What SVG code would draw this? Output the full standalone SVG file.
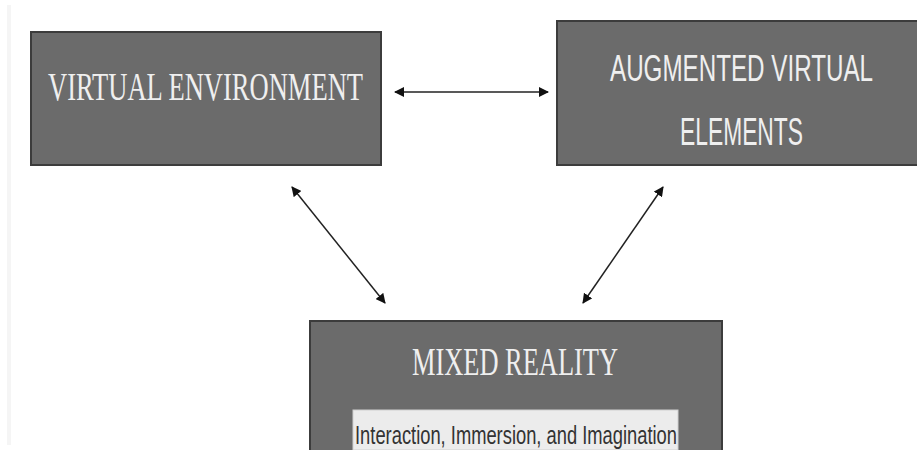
<svg xmlns="http://www.w3.org/2000/svg" width="917" height="450" viewBox="0 0 917 450">
  <defs>
    <marker id="ah" viewBox="0 0 10 10" refX="9" refY="5" markerWidth="10" markerHeight="10" markerUnits="userSpaceOnUse" orient="auto-start-reverse">
      <path d="M0,0 L10,5 L0,10 z" fill="#111"/>
    </marker>
  </defs>
  <style>
    .box { fill: #6b6b6b; stroke: #3c3c3c; stroke-width: 2; }
    .edge { fill: none; stroke: #3c3c3c; stroke-width: 2; }
    .serif { font-family: "Liberation Serif", "DejaVu Serif", serif; fill: #efefef; }
    .sans { font-family: "Liberation Sans", "DejaVu Sans", sans-serif; fill: #efefef; }
    .conn { stroke: #222; stroke-width: 1.5; fill: none; marker-start: url(#ah); marker-end: url(#ah); }
    .sub { fill: #ececec; stroke: #d0d0d0; stroke-width: 1; }
  </style>
  <rect x="0" y="0" width="917" height="450" fill="#ffffff"/>
  <rect x="7" y="5" width="4" height="440" fill="#f5f5f5"/>

  <g id="virtual-environment">
    <rect class="box" x="31" y="32" width="350" height="133"/>
    <text class="serif" x="48" y="100" font-size="40" textLength="315" lengthAdjust="spacingAndGlyphs">VIRTUAL ENVIRONMENT</text>
  </g>

  <g id="augmented-virtual-elements">
    <rect x="557" y="21" width="360" height="144" fill="#6b6b6b"/>
    <path class="edge" d="M917,21 H557 V165 H917"/>
    <text class="sans" transform="translate(610,81) scale(1,1.4)" x="0" y="0" font-size="27" textLength="263" lengthAdjust="spacingAndGlyphs">AUGMENTED VIRTUAL</text>
    <text class="sans" x="680" y="145" font-size="38" textLength="123" lengthAdjust="spacingAndGlyphs">ELEMENTS</text>
  </g>

  <g id="mixed-reality">
    <rect x="310" y="321" width="412" height="129" fill="#6b6b6b"/>
    <path class="edge" d="M310,450 V321 H722 V450"/>
    <text class="serif" x="412" y="375" font-size="40" textLength="206" lengthAdjust="spacingAndGlyphs">MIXED REALITY</text>
    <rect class="sub" x="353" y="410" width="325" height="40"/>
    <text x="355" y="444" font-family="Liberation Sans, DejaVu Sans, sans-serif" font-size="26" fill="#333" textLength="322" lengthAdjust="spacingAndGlyphs">Interaction, Immersion, and Imagination</text>
  </g>

  <g id="connectors">
    <line class="conn" x1="395" y1="92" x2="548" y2="92"/>
    <line class="conn" x1="292" y1="187" x2="385" y2="303"/>
    <line class="conn" x1="663" y1="187" x2="583" y2="303"/>
  </g>
</svg>
